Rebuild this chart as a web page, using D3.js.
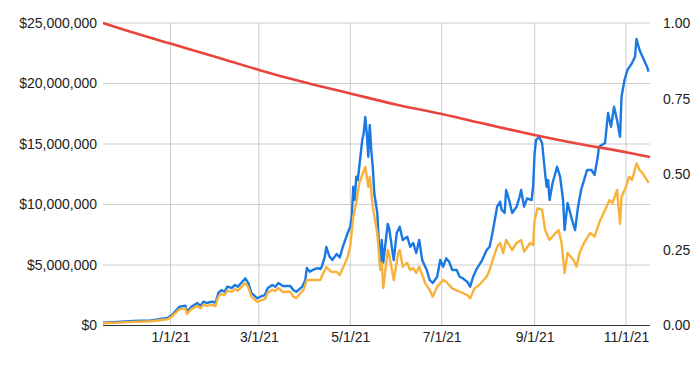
<!DOCTYPE html>
<html><head><meta charset="utf-8">
<script src="https://cdn.jsdelivr.net/npm/d3@7/dist/d3.min.js"></script>
<style>
html,body{margin:0;padding:0;background:#fff;}
svg{display:block;font-family:"Liberation Sans",Arial,sans-serif;}
</style></head>
<body><svg id="c" width="700" height="369"></svg>
<script>
// ---- data (values in millions USD; ratio on right axis) ----
const blueDates = ["2020-11-17","2020-11-27","2020-12-07","2020-12-19","2020-12-30","2021-01-02","2021-01-07","2021-01-11","2021-01-12","2021-01-15","2021-01-19","2021-01-21","2021-01-23","2021-01-25","2021-01-29","2021-01-31","2021-02-02","2021-02-04","2021-02-06","2021-02-08","2021-02-11","2021-02-13","2021-02-15","2021-02-18","2021-02-20","2021-02-22","2021-02-24","2021-02-28","2021-03-02","2021-03-05","2021-03-07","2021-03-10","2021-03-12","2021-03-14","2021-03-17","2021-03-22","2021-03-24","2021-03-26","2021-03-30","2021-04-01","2021-04-02","2021-04-04","2021-04-06","2021-04-09","2021-04-11","2021-04-12","2021-04-14","2021-04-15","2021-04-17","2021-04-19","2021-04-22","2021-04-24","2021-04-26","2021-04-29","2021-05-01","2021-05-02","2021-05-03","2021-05-04","2021-05-05","2021-05-06","2021-05-07","2021-05-09","2021-05-10","2021-05-11","2021-05-12","2021-05-13","2021-05-14","2021-05-15","2021-05-16","2021-05-17","2021-05-19","2021-05-20","2021-05-21","2021-05-22","2021-05-23","2021-05-26","2021-05-27","2021-05-29","2021-05-30","2021-06-01","2021-06-03","2021-06-05","2021-06-08","2021-06-10","2021-06-12","2021-06-14","2021-06-16","2021-06-18","2021-06-21","2021-06-23","2021-06-25","2021-06-28","2021-06-30","2021-07-02","2021-07-04","2021-07-06","2021-07-08","2021-07-11","2021-07-13","2021-07-15","2021-07-18","2021-07-20","2021-07-22","2021-07-24","2021-07-26","2021-07-28","2021-07-31","2021-08-02","2021-08-04","2021-08-07","2021-08-09","2021-08-10","2021-08-12","2021-08-13","2021-08-15","2021-08-17","2021-08-20","2021-08-22","2021-08-23","2021-08-25","2021-08-27","2021-08-30","2021-08-31","2021-09-01","2021-09-02","2021-09-04","2021-09-06","2021-09-08","2021-09-09","2021-09-10","2021-09-11","2021-09-13","2021-09-16","2021-09-18","2021-09-20","2021-09-21","2021-09-23","2021-09-26","2021-09-28","2021-09-30","2021-10-02","2021-10-04","2021-10-06","2021-10-09","2021-10-11","2021-10-13","2021-10-14","2021-10-18","2021-10-20","2021-10-22","2021-10-24","2021-10-26","2021-10-28","2021-10-29","2021-10-31","2021-11-02","2021-11-05","2021-11-07","2021-11-08","2021-11-10","2021-11-12","2021-11-15","2021-11-16"];
const blueValues = [0.23,0.29,0.37,0.41,0.62,0.87,1.55,1.64,1.14,1.55,1.86,1.61,1.97,1.86,1.97,1.86,2.69,2.93,2.79,3.21,3.10,3.35,3.21,3.62,3.90,3.51,2.69,2.25,2.38,2.52,3.10,3.35,3.21,3.51,3.26,3.26,2.93,2.79,3.21,3.76,4.75,4.45,4.59,4.75,4.67,4.86,5.69,6.49,5.74,5.41,5.91,5.62,6.49,7.56,8.17,8.99,11.47,10.37,12.30,12.02,13.12,15.33,15.91,17.23,15.91,13.95,16.57,14.50,13.12,10.95,9.30,7.07,4.80,7.07,5.20,8.40,8.00,6.24,5.41,7.64,8.17,7.07,7.34,6.51,6.82,5.99,7.07,5.41,4.59,3.76,3.51,4.03,5.41,4.86,5.55,5.27,4.59,4.59,4.03,3.90,3.62,3.21,4.03,4.59,5.00,5.41,6.24,6.51,7.73,9.82,10.23,9.55,9.30,11.20,10.37,9.30,9.82,10.64,11.20,9.82,10.51,10.37,11.47,14.26,15.33,15.60,15.08,12.60,11.47,12.02,10.37,11.78,13.12,12.30,10.37,7.89,10.12,8.72,7.89,9.82,11.20,12.02,12.85,12.85,12.44,13.84,14.78,15.08,17.56,16.43,18.08,16.98,15.60,18.91,20.29,21.12,21.69,22.21,23.68,22.77,22.21,21.39,20.98];

const orangeDates = ["2020-11-17","2020-11-27","2020-12-07","2020-12-19","2020-12-30","2021-01-02","2021-01-07","2021-01-11","2021-01-12","2021-01-15","2021-01-19","2021-01-21","2021-01-23","2021-01-25","2021-01-29","2021-01-31","2021-02-02","2021-02-04","2021-02-06","2021-02-08","2021-02-11","2021-02-13","2021-02-15","2021-02-18","2021-02-20","2021-02-22","2021-02-24","2021-02-28","2021-03-02","2021-03-05","2021-03-07","2021-03-10","2021-03-12","2021-03-14","2021-03-17","2021-03-22","2021-03-24","2021-03-26","2021-03-31","2021-04-02","2021-04-06","2021-04-11","2021-04-13","2021-04-15","2021-04-18","2021-04-22","2021-04-24","2021-04-29","2021-05-01","2021-05-03","2021-05-05","2021-05-07","2021-05-11","2021-05-13","2021-05-14","2021-05-16","2021-05-19","2021-05-21","2021-05-22","2021-05-23","2021-05-26","2021-05-27","2021-05-30","2021-06-02","2021-06-03","2021-06-05","2021-06-08","2021-06-10","2021-06-12","2021-06-14","2021-06-16","2021-06-20","2021-06-23","2021-06-25","2021-06-28","2021-07-02","2021-07-04","2021-07-08","2021-07-13","2021-07-18","2021-07-20","2021-07-23","2021-07-26","2021-07-31","2021-08-02","2021-08-04","2021-08-07","2021-08-09","2021-08-11","2021-08-13","2021-08-17","2021-08-20","2021-08-23","2021-08-25","2021-08-29","2021-08-31","2021-09-01","2021-09-03","2021-09-06","2021-09-08","2021-09-11","2021-09-15","2021-09-17","2021-09-19","2021-09-21","2021-09-23","2021-09-27","2021-09-29","2021-10-01","2021-10-04","2021-10-08","2021-10-11","2021-10-14","2021-10-18","2021-10-21","2021-10-23","2021-10-26","2021-10-28","2021-10-29","2021-11-01","2021-11-03","2021-11-05","2021-11-08","2021-11-10","2021-11-12","2021-11-15","2021-11-16"];
const orangeValues = [0.18,0.24,0.30,0.35,0.52,0.75,1.35,1.42,0.95,1.35,1.62,1.40,1.72,1.62,1.70,1.60,2.40,2.62,2.50,2.88,2.78,3.00,2.88,3.25,3.50,3.15,2.38,1.95,2.05,2.18,2.70,2.95,2.85,3.10,2.77,2.80,2.38,2.27,3.00,3.76,3.76,3.76,4.34,4.83,4.45,4.42,4.17,5.58,6.57,8.99,10.12,11.78,13.10,11.47,12.30,9.82,7.64,4.59,5.17,3.10,6.24,5.83,3.76,5.99,6.24,4.86,5.17,4.59,4.75,4.34,4.86,3.51,2.93,2.38,3.21,3.76,3.62,3.07,2.79,2.52,2.25,3.07,3.35,4.03,4.59,5.41,6.51,6.82,5.99,7.07,6.24,6.82,7.07,6.10,6.82,6.65,8.72,9.69,9.55,7.89,7.07,7.64,7.89,6.82,4.34,5.99,5.41,4.86,5.99,6.82,7.64,7.34,8.47,9.55,10.37,10.12,11.20,8.40,10.64,11.47,12.30,12.02,13.40,12.85,12.60,12.02,11.78];

const redDates = ["2020-11-17","2020-12-01","2021-01-01","2021-02-01","2021-03-01","2021-04-01","2021-05-01","2021-06-01","2021-07-01","2021-08-01","2021-09-01","2021-10-01","2021-11-01","2021-11-17"];
const redValues = [1.000,0.978,0.932,0.887,0.845,0.803,0.767,0.730,0.699,0.664,0.630,0.600,0.573,0.557];

const xTickDates = ["2021-01-01","2021-03-01","2021-05-01","2021-07-01","2021-09-01","2021-11-01"];
const leftTicks = [0,5,10,15,20,25];          // millions
const rightTicks = [0,0.25,0.5,0.75,1];

// ---- layout ----
const parse = d3.timeParse("%Y-%m-%d");
const svg = d3.select("#c");
const L = 103, R = 650, T = 23, B = 325.5;

const x = d3.scaleTime().domain([parse("2020-11-17"), parse("2021-11-17")]).range([L, R]);
const yL = d3.scaleLinear().domain([0, 25]).range([B, T]);
const yR = d3.scaleLinear().domain([0, 1]).range([B, T]);

// gridlines
svg.append("g").selectAll("line").data(leftTicks.filter(d => d > 0)).join("line")
  .attr("x1", L).attr("x2", R).attr("y1", d => yL(d)).attr("y2", d => yL(d))
  .attr("stroke", "#cccccc").attr("stroke-width", 1);
svg.append("g").selectAll("line").data(xTickDates).join("line")
  .attr("x1", d => x(parse(d))).attr("x2", d => x(parse(d)))
  .attr("y1", T).attr("y2", B)
  .attr("stroke", "#cccccc").attr("stroke-width", 1);

// baseline
svg.append("line").attr("x1", L).attr("x2", R).attr("y1", B).attr("y2", B)
  .attr("stroke", "#333").attr("stroke-width", 1.2);

// axes
const fmtL = v => "$" + d3.format(",")(v * 1e6);
const axL = svg.append("g").attr("transform", `translate(${L - 6},0)`)
  .call(d3.axisLeft(yL).tickValues(leftTicks).tickFormat(fmtL).tickSize(0).tickPadding(0));
const axR = svg.append("g").attr("transform", `translate(${R + 13},0)`)
  .call(d3.axisRight(yR).tickValues(rightTicks).tickFormat(d3.format(".2f")).tickSize(0).tickPadding(0));
const axB = svg.append("g").attr("transform", `translate(0,${B + 7})`)
  .call(d3.axisBottom(x).tickValues(xTickDates.map(parse)).tickFormat(d3.timeFormat("%-m/%-d/%y")).tickSize(0).tickPadding(0));
[axL, axR, axB].forEach(a => {
  a.select(".domain").remove();
  a.selectAll("text").attr("fill", "#222").style("font-size", "14px")
    .style("font-family", '"Liberation Sans", Arial, sans-serif');
});

// lines
const lineL = d3.line().x(d => x(d[0])).y(d => yL(d[1]));
const lineR = d3.line().x(d => x(d[0])).y(d => yR(d[1])).curve(d3.curveMonotoneX);

const blue = blueDates.map((d, i) => [parse(d), blueValues[i]]);
const orange = orangeDates.map((d, i) => [parse(d), orangeValues[i]]);
const red = redDates.map((d, i) => [parse(d), redValues[i]]);

svg.append("path").datum(blue).attr("d", lineL).attr("fill", "none")
  .attr("stroke", "#1a78e2").attr("stroke-width", 2.4).attr("stroke-linejoin", "round");
svg.append("path").datum(orange).attr("d", lineL).attr("fill", "none")
  .attr("stroke", "#f8b23a").attr("stroke-width", 2.4).attr("stroke-linejoin", "round");
svg.append("path").datum(red).attr("d", lineR).attr("fill", "none")
  .attr("stroke", "#e8453c").attr("stroke-width", 2.6);
</script></body></html>
